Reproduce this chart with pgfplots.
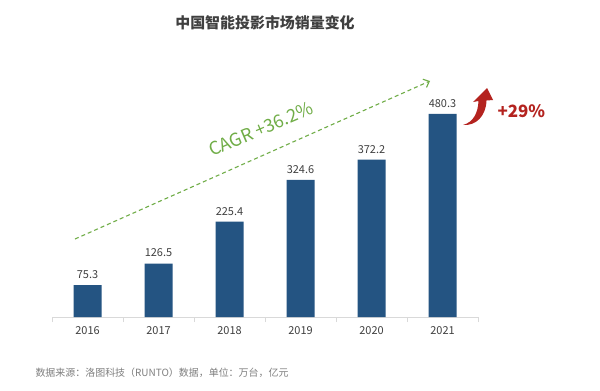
\documentclass[border=0pt]{standalone}
\usepackage{fontspec}
\setmainfont{Noto Sans CJK SC}
\usepackage{pgfplots}
\pgfplotsset{compat=1.18}
\usetikzlibrary{arrows.meta}
\definecolor{barblue}{HTML}{245482}
\definecolor{cagrgreen}{HTML}{70AD47}
\definecolor{upred}{HTML}{B4231F}
\definecolor{txtgray}{HTML}{404040}
\definecolor{notegray}{HTML}{7F7F7F}
\begin{document}
\begin{tikzpicture}[x=1bp,y=1bp]
\path[fill=white] (0,0) rectangle (600,390);
\begin{axis}[
  scale only axis, width=426bp, height=253.6bp,
  at={(52bp,73bp)}, anchor=south west,
  xmin=-0.5, xmax=5.5, ymin=0, ymax=600,
  axis y line=none, axis x line*=bottom,
  x axis line style={-, draw=black!15, line width=0.8pt},
  xtick={0,...,5}, xticklabels={2016,2017,2018,2019,2020,2021},
  major tick length=0pt,
  minor xtick={-0.5,0.5,...,5.5}, minor tick length=5bp,
  minor tick style={draw=black!15, line width=0.6pt},
  tick align=center,
  xticklabel style={font=\fontsize{11}{13}\selectfont, text=txtgray, yshift=-6bp},
  ybar, bar width=28bp,
  nodes near coords,
  nodes near coords style={font=\fontsize{11}{13}\selectfont, text=txtgray, yshift=3bp},
  point meta=explicit symbolic,
  clip=false,
]
\addplot[fill=barblue, draw=none] coordinates {
  (0,75.3) [75.3]
  (1,126.5) [126.5]
  (2,225.4) [225.4]
  (3,324.6) [324.6]
  (4,372.2) [372.2]
  (5,480.3) [480.3]
};
\end{axis}
% title
\node[font=\fontsize{15}{18}\selectfont\bfseries, text=txtgray] at (265,367) {中国智能投影市场销量变化};
% footnote
\node[anchor=west, font=\fontsize{10}{12}\selectfont, text=notegray] at (32,17.5) {数据来源：洛图科技（RUNTO）数据，单位：万台，亿元};
% CAGR arrow
\draw[cagrgreen, line width=1.1pt, dash pattern=on 4bp off 3bp, -{Straight Barb[length=5bp,width=9bp]}] (75,151) -- (430,309);
\node[cagrgreen, rotate=23, font=\fontsize{18}{21}\selectfont] at (261,261) {CAGR +36.2\%};
% red arrow
\fill[upred] (463,265) .. controls (474,268) and (478,278) .. (478.5,289) -- (473,288) -- (487,302) -- (493,290) -- (486.5,289.5) .. controls (486,274) and (476,264) .. (463,265) -- cycle;
\node[anchor=west, upred, font=\fontsize{17}{20}\selectfont\bfseries] at (494,279) {+29\%};
\end{tikzpicture}
\end{document}
